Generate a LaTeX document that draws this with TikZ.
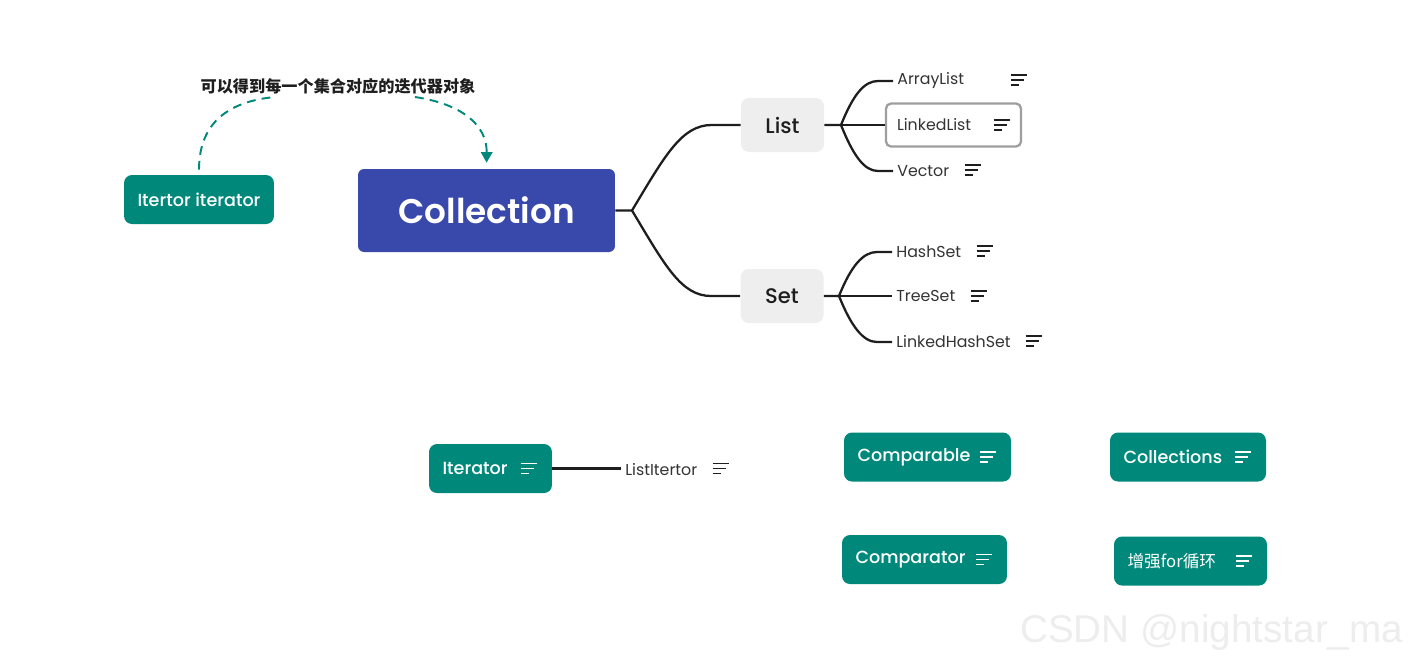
\documentclass[tikz,border=0pt]{standalone}
\usepackage{fontspec}
\setmainfont{Poppins}
\newfontfamily\mediumfont{Poppins Medium}
\newfontfamily\semifont{Poppins SemiBold}
\newfontfamily\cjkfont{Noto Sans CJK SC}
\newfontfamily\markfont{Liberation Sans}
\usetikzlibrary{calc,arrows.meta}
\definecolor{mindteal}{HTML}{00897B}
\definecolor{mindblue}{HTML}{3949AB}
\definecolor{topicgray}{HTML}{EEEEEE}
\definecolor{boxgray}{HTML}{9E9E9E}
\definecolor{linegray}{HTML}{1E1E1E}
\definecolor{textgray}{HTML}{333333}
\tikzset{
    notes/.pic={\draw [line width=0.75pt] (0,-5) -- ++(16,0) (0,0) -- ++(13,0) (0,5) -- ++(8,0);}
}
\begin{document}
\begin{tikzpicture}
[
    x=0.02cm, y=-0.02cm,
    branch/.style={draw=linegray, line width=1.3pt},
    mainbox/.style={fill=mindblue, rounded corners=0.12cm, text=white, minimum width=5.14cm, minimum height=1.66cm, font=\semifont\fontsize{19.5}{22}\selectfont},
    topicbox/.style={fill=topicgray, rounded corners=0.16cm, text=linegray, minimum width=1.66cm, minimum height=1.08cm, font=\mediumfont\fontsize{12}{14}\selectfont},
    tealbox/.style={fill=mindteal, rounded corners=0.16cm, text=white, minimum height=0.98cm, inner xsep=0.27cm, align=left, font=\mediumfont\fontsize{10}{12}\selectfont},
    leaf/.style={anchor=west, inner sep=0.08cm, text=textgray, font=\fontsize{9}{11}\selectfont},
    hintline/.style={draw=mindteal, line width=1.1pt, dash pattern=on 5pt off 3.5pt}
]
    \useasboundingbox (0,0) rectangle (1419,664);

    % main topic and its two branches
    \node [mainbox] (collection) at (486.5,210.5) {Collection};
    \node [topicbox] (list) at (782.5,125) {List};
    \node [topicbox] (set) at (782,296) {Set};

    \coordinate (cfork) at (632,210.5);
    \draw [branch] (collection.east) -- (cfork) .. controls +(33,-55) and +(-30,0) .. ($(list.west)+(-29,0)$) -- (list.west);
    \draw [branch] (cfork) .. controls +(33,55) and +(-30,0) .. ($(set.west)+(-29,0)$) -- (set.west);

    % children of List
    \node [leaf] (arraylist) at (893,81) {ArrayList};
    \node [draw=boxgray, line width=1.3pt, rounded corners=0.1cm, minimum height=0.86cm, inner xsep=0.22cm, text width=2.26cm, align=left, text=textgray, font=\fontsize{9}{11}\selectfont] (linkedlist) at (953.5,125) {LinkedList};
    \node [leaf] (vector) at (893,171) {Vector};

    \coordinate (lfork) at (841,125);
    \draw [branch] (list.east) -- (lfork) .. controls +(12,-30) and +(-14,0) .. ($(arraylist.west)+(-15,0)$) -- (arraylist.west);
    \draw [branch] (lfork) -- (linkedlist.west);
    \draw [branch] (lfork) .. controls +(12,30) and +(-14,0) .. ($(vector.west)+(-15,0)$) -- (vector.west);

    \pic [linegray] at ($(arraylist.east)+(43,-1)$) {notes};
    \pic [linegray] at ($(linkedlist.east)+(-28,0)$) {notes};
    \pic [linegray] at ($(vector.east)+(11,-1)$) {notes};

    % children of Set
    \node [leaf] (hashset) at (892,252) {HashSet};
    \node [leaf] (treeset) at (892,296) {TreeSet};
    \node [leaf] (linkedhashset) at (892,342) {LinkedHashSet};

    \coordinate (sfork) at (839,296);
    \draw [branch] (set.east) -- (sfork) .. controls +(12,-30) and +(-14,0) .. ($(hashset.west)+(-15,0)$) -- (hashset.west);
    \draw [branch] (sfork) -- (treeset.west);
    \draw [branch] (sfork) .. controls +(12,30) and +(-14,0) .. ($(linkedhashset.west)+(-15,0)$) -- (linkedhashset.west);

    \pic [linegray] at ($(hashset.east)+(11,-1)$) {notes};
    \pic [linegray] at ($(treeset.east)+(11,0)$) {notes};
    \pic [linegray] at ($(linkedhashset.east)+(11,-1)$) {notes};

    % floating topic with the dashed relation
    \node [tealbox, minimum width=2.96cm] (itertor) at (199,199.5) {Itertor iterator};
    \node [font=\cjkfont\bfseries\fontsize{9.2}{11}\selectfont, text=linegray] (hint) at (338,86) {可以得到每一个集合对应的迭代器对象};
    \coordinate (hintleft) at (275,97);
    \coordinate (hintright) at (415,97);
    \draw [hintline, shorten <=0.1cm] (itertor.north) .. controls (199,120) and (232,101) .. (hintleft);
    \draw [hintline, -{Triangle[length=6pt,width=6.5pt]}, shorten >=0.12cm] (hintright) .. controls (462,104) and (487,125) .. (collection.north);

    % other floating topics
    \node [tealbox, text width=1.92cm] (iterator) at (490.5,468.5) {Iterator};
    \node [leaf] (listitertor) at (621,469.5) {ListItertor};
    \draw [branch] (iterator.east) -- (iterator.east -| listitertor.west);
    \pic [white] at ($(iterator.east)+(-31,0)$) {notes};
    \pic [linegray] at ($(listitertor.east)+(11,-1)$) {notes};

    \node [tealbox, text width=2.8cm] (comparable) at (927.5,457) {Comparable};
    \node [tealbox, text width=2.58cm] (collections) at (1188,457) {Collections};
    \node [tealbox, text width=2.76cm] (comparator) at (924.5,559.5) {Comparator};
    \node [tealbox, text width=2.52cm, font=\cjkfont\fontsize{9.5}{12}\selectfont] (foreach) at (1190.5,561) {增强for循环};
    \pic [white] at ($(comparable.east)+(-31,0)$) {notes};
    \pic [white] at ($(collections.east)+(-31,0)$) {notes};
    \pic [white] at ($(comparator.east)+(-31,0)$) {notes};
    \pic [white] at ($(foreach.east)+(-31,0)$) {notes};

    \node [anchor=west, font=\markfont\fontsize{22}{26}\selectfont, text=black!7] (watermark) at (1014,632) {CSDN @nightstar\_ma};
\end{tikzpicture}
\end{document}
